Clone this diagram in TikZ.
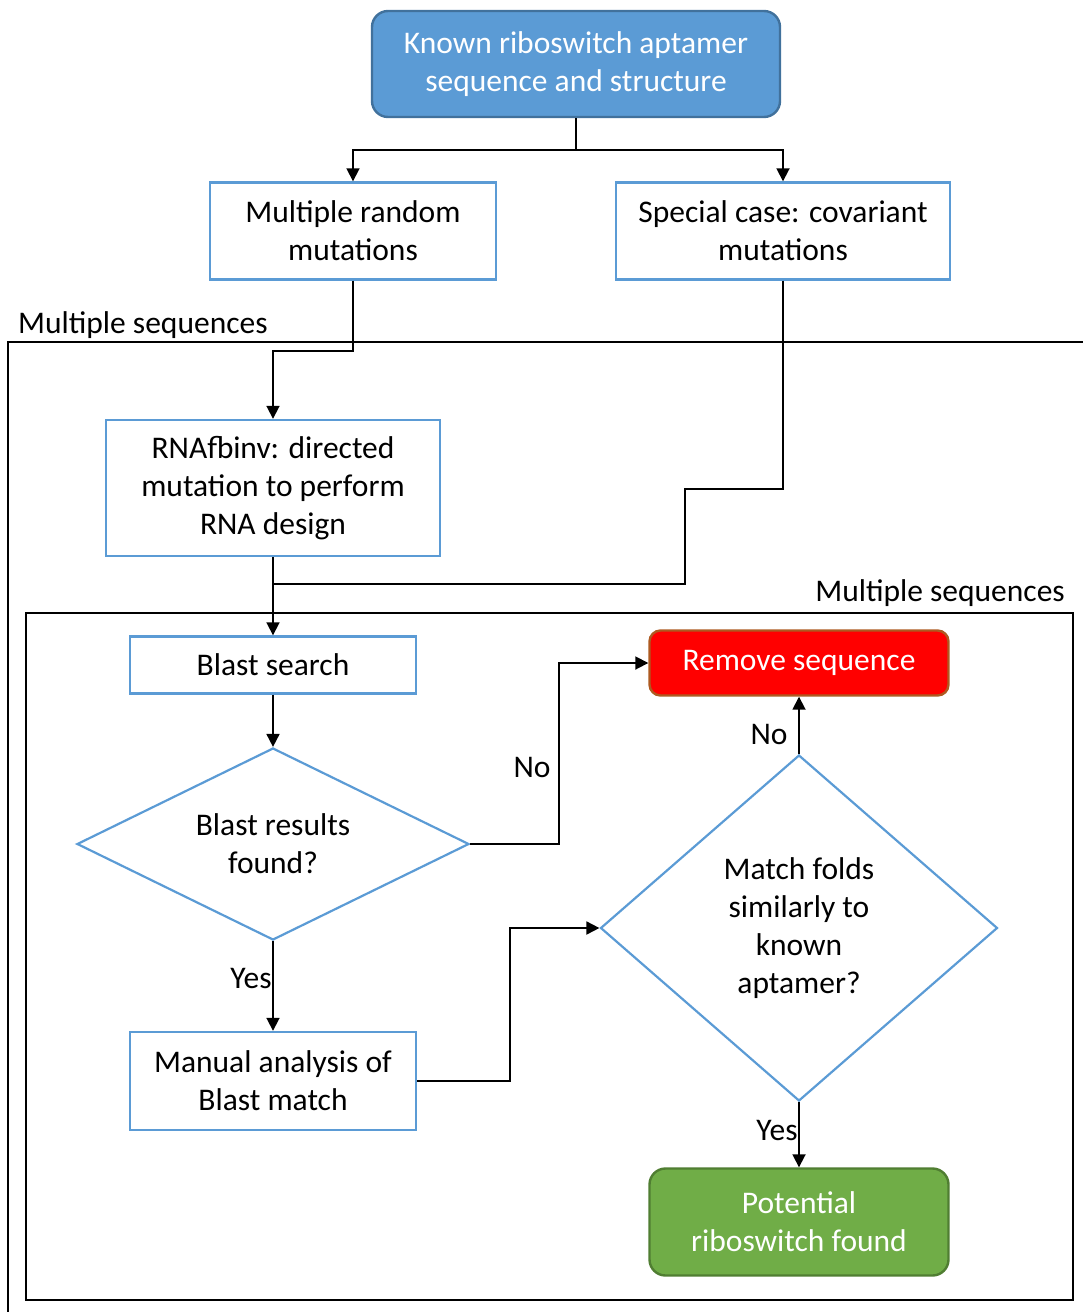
\documentclass[tikz,border=0pt]{standalone}
\usepackage{fontspec}
\setmainfont{Carlito}
\usetikzlibrary{arrows.meta,shapes.geometric}
\definecolor{BoxBlue}{HTML}{5B9BD5}
\definecolor{DeepBlue}{HTML}{41719C}
\definecolor{AlarmRed}{HTML}{FF0000}
\definecolor{RedEdge}{HTML}{AE5A21}
\definecolor{LeafGreen}{HTML}{70AD47}
\definecolor{GreenEdge}{HTML}{507E32}

\begin{document}
\begin{tikzpicture}[x=1pt,y=-1pt,every node/.style={font=\fontsize{31.5}{38}\selectfont,align=center,inner sep=0pt},
  box/.style={draw=BoxBlue,line width=2.4pt,fill=white},
  term/.style={rounded corners=16pt,line width=2.4pt,text=white},
  choice/.style={diamond,draw=BoxBlue,line width=2.2pt},
  link/.style={line width=1.8pt},
  flow/.style={line width=1.8pt,-{Triangle[length=13pt,width=13pt]}}]
\useasboundingbox (0,0) rectangle (1083,1312);
% frames
\draw[line width=2pt] (1083,342) -- (8,342) -- (8,1312);
\draw[line width=2pt] (26,613) rectangle (1073,1300);
\node[anchor=west] (outerlbl) at (18,325) {Multiple sequences};
\node[anchor=east] (innerlbl) at (1065,593) {Multiple sequences};
% nodes
\node[term,fill=BoxBlue,draw=DeepBlue,minimum width=408pt,minimum height=106pt] (known) at (576,64) {Known riboswitch aptamer\\sequence and structure};
\node[box,minimum width=286pt,minimum height=97pt] (mut) at (353,231) {Multiple random\\mutations};
\node[box,minimum width=334pt,minimum height=97pt] (cov) at (783,231) {Special case: covariant\\mutations};
\node[box,minimum width=334pt,minimum height=136pt] (rna) at (273,488) {RNAfbinv: directed\\mutation to perform\\RNA design};
\node[box,minimum width=286pt,minimum height=57pt] (blast) at (273,665) {Blast search};
\node[choice,aspect=2,minimum width=392pt,minimum height=192pt] (found) at (273,844) {Blast results\\found?};
\node[box,minimum width=286pt,minimum height=98pt] (manual) at (273,1081) {Manual analysis of\\Blast match};
\node[term,rounded corners=11pt,fill=AlarmRed,draw=RedEdge,minimum width=299pt,minimum height=65pt] (remove) at (799,663) {Remove sequence};
\node[choice,aspect=1.15,minimum width=397pt,minimum height=346pt] (match) at (799,928) {Match folds\\similarly to\\known\\aptamer?};
\node[term,fill=LeafGreen,draw=GreenEdge,minimum width=299pt,minimum height=107pt] (hit) at (799,1222) {Potential\\riboswitch found};
% connectors
\coordinate (split) at (576,150);
\coordinate (merge) at (273,584);
\draw[link] (known.south) -- (split);
\draw[flow] (split) -| (mut.north);
\draw[flow] (split) -| (cov.north);
\draw[flow] (mut.south) -- ++(0,70) -| (rna.north);
\draw[link] (cov.south) |- (685,489) |- (merge);
\draw[flow] (rna) -- (blast);
\draw[flow] (blast) -- (found);
\draw[flow] (found.east) -- (559,844) |- (remove.west);
\draw[flow] (found.south) -- (manual.north);
\draw[flow] (manual.east) -- (510,1081) |- (match.west);
\draw[flow] (match.north) -- (remove.south);
\draw[flow] (match.south) -- (hit.north);
\node (no1) at (532,767) {No};
\node (yes1) at (251,978) {Yes};
\node (no2) at (769,734) {No};
\node (yes2) at (777,1130) {Yes};
\end{tikzpicture}
\end{document}
